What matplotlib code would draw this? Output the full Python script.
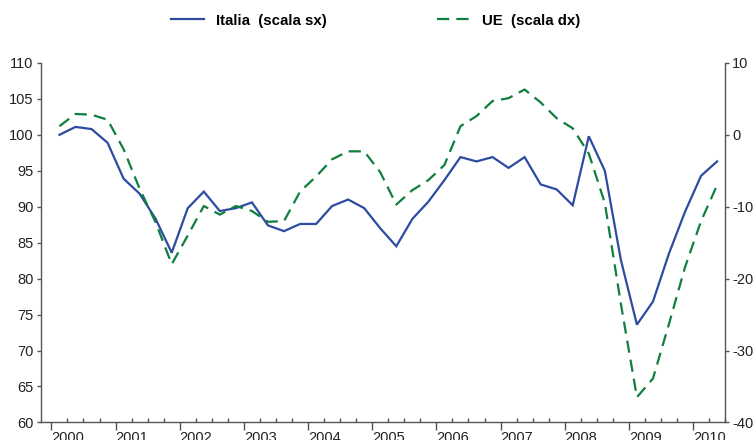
import matplotlib
matplotlib.use("Agg")
import matplotlib.pyplot as plt
from matplotlib import font_manager

# ---- data (quarterly, 2000Q1 .. 2010Q2) ----
years = [str(y) for y in range(2000, 2011)]
italia = [100.0, 101.1, 100.8, 98.9, 93.9, 91.8, 88.3, 83.6, 89.8, 92.1,
          89.4, 89.8, 90.6, 87.4, 86.6, 87.6, 87.6, 90.1, 91.0, 89.8,
          87.0, 84.5, 88.3, 90.7, 93.7, 96.9, 96.3, 96.9, 95.4, 96.9,
          93.1, 92.4, 90.2, 99.8, 95.0, 82.6, 73.6, 76.8, 83.5, 89.3,
          94.3, 96.3]
ue = [1.2, 2.9, 2.8, 2.1, -2.0, -7.5, -12.2, -18.0, -14.0, -9.9,
      -11.1, -9.9, -10.6, -12.1, -12.0, -7.9, -5.8, -3.4, -2.3, -2.3,
      -5.2, -9.7, -7.7, -6.3, -4.2, 1.2, 2.6, 4.7, 5.1, 6.3,
      4.5, 2.3, 0.9, -2.6, -9.5, -23.5, -36.5, -33.9, -26.3, -18.4,
      -12.0, -7.0]
left_ticks = list(range(60, 111, 5))
right_ticks = list(range(-40, 11, 10))
legend_labels = ["Italia  (scala sx)", "UE  (scala dx)"]

names = {f.name for f in font_manager.fontManager.ttflist}
if "Liberation Sans Narrow" in names:
    legend_font = "Liberation Sans Narrow"
    leg_size = 12.5
else:
    legend_font = "Liberation Sans"
    leg_size = 10.8
tick_font = "Liberation Sans"

plt.rcParams['font.family'] = [tick_font, 'DejaVu Sans']

blue = "#2D4BA0"
green = "#0E7F3E"
axis_col = "#555555"
text_col = "#222222"

fig = plt.figure(figsize=(7.53, 4.40), dpi=100)
ax = fig.add_axes([0.054, 0.040, 0.909, 0.817])
ax2 = ax.twinx()

x = [i + 0.5 for i in range(len(italia))]
l1, = ax.plot(x, italia, color=blue, lw=1.6, solid_joinstyle='miter')
l2, = ax2.plot(x, ue, color=green, lw=1.6, dashes=(5.5, 3.2))

ax.set_xlim(-0.67, 42.0)
ax.set_ylim(60, 110)
ax2.set_ylim(-40, 10)

ax.set_yticks(left_ticks)
ax.set_yticklabels([str(t) for t in left_ticks])
ax2.set_yticks(right_ticks)
ax2.set_yticklabels([str(t) for t in right_ticks])

ax.set_xticks([4 * i for i in range(len(years))])
ax.set_xticklabels(years)
ax.set_xticks([i for i in range(0, 43) if i % 4 != 0], minor=True)

for a in (ax, ax2):
    for s in a.spines.values():
        s.set_color(axis_col)
        s.set_linewidth(1.0)
    a.spines['top'].set_visible(False)

ax.spines['right'].set_visible(False)
ax2.spines['left'].set_visible(False)
ax2.spines['bottom'].set_visible(False)

ax.tick_params(axis='y', direction='out', length=3, width=1, color=axis_col,
               labelsize=10.5, labelcolor=text_col, pad=2)
ax2.tick_params(axis='y', direction='out', length=3, width=1, color=axis_col,
                labelsize=10.5, labelcolor=text_col, pad=2)
ax.tick_params(axis='x', which='major', direction='out', length=6, width=1,
               color=axis_col, labelsize=10.5, labelcolor=text_col, pad=0)
ax.tick_params(axis='x', which='minor', direction='in', length=3, width=1,
               color=axis_col)
for lab in ax.get_xticklabels():
    lab.set_ha('left')

fig.legend([l1, l2], legend_labels, loc='center', bbox_to_anchor=(0.499, 0.953),
           ncol=2, frameon=False, handlelength=2.2, handletextpad=0.8,
           columnspacing=7.3,
           prop={'family': [legend_font, 'DejaVu Sans'], 'weight': 'bold',
                 'size': leg_size})

fig.savefig("out.png", dpi=100)
